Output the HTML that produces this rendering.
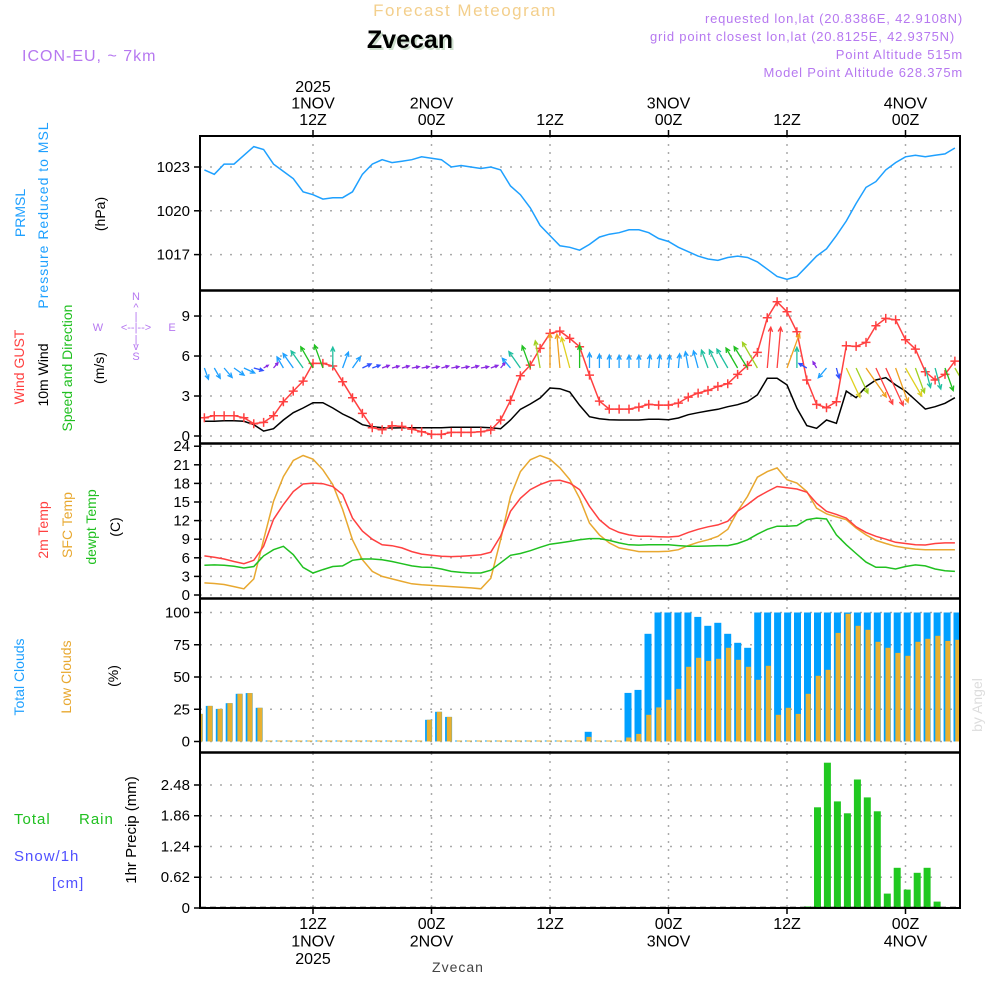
<!DOCTYPE html>
<html><head><meta charset="utf-8">
<style>
html,body{margin:0;padding:0;background:#fff;width:1000px;height:1000px;overflow:hidden}
svg{display:block}
text{font-family:"Liberation Sans",sans-serif}
</style></head>
<body>
<svg id="chart" width="1000" height="1000" viewBox="0 0 1000 1000" xmlns="http://www.w3.org/2000/svg">
<text x="465" y="16" text-anchor="middle" font-size="17" fill="#f3cf8c" letter-spacing="1.5">Forecast Meteogram</text>
<text x="410" y="48" text-anchor="middle" font-size="25" font-weight="bold" font-family="Liberation Serif,serif" fill="#cfe0cf" transform="translate(2,2)">Zvecan</text>
<text x="410" y="48" text-anchor="middle" font-size="25" font-weight="bold" font-family="Liberation Serif,serif" fill="#000">Zvecan</text>
<text x="22" y="61" font-size="16" fill="#b678f0" letter-spacing="1">ICON-EU, ~ 7km</text>
<g font-size="13" fill="#b678f0" text-anchor="end" letter-spacing="0.8">
<text x="963" y="23">requested lon,lat (20.8386E, 42.9108N)</text>
<text x="955" y="41">grid point closest lon,lat (20.8125E, 42.9375N)</text>
<text x="963" y="59">Point Altitude 515m</text>
<text x="963" y="77">Model Point Altitude 628.375m</text>
</g>
<g id="grid"></g>
<g id="marks"></g>
<g id="axes"></g>
<g font-size="14">
<text transform="translate(25,213) rotate(-90)" text-anchor="middle" fill="#1ea0ff">PRMSL</text>
<text transform="translate(48,215) rotate(-90)" text-anchor="middle" fill="#1ea0ff" letter-spacing="1">Pressure Reduced to MSL</text>
<text transform="translate(105,214) rotate(-90)" text-anchor="middle" fill="#000">(hPa)</text>
<text transform="translate(24,367) rotate(-90)" text-anchor="middle" fill="#ff4040">Wind GUST</text>
<text transform="translate(48,375) rotate(-90)" text-anchor="middle" fill="#000">10m Wind</text>
<text transform="translate(72,368) rotate(-90)" text-anchor="middle" fill="#20c020">Speed and Direction</text>
<text transform="translate(104,368) rotate(-90)" text-anchor="middle" fill="#000">(m/s)</text>
<g fill="#b678f0" font-size="11" text-anchor="middle">
<text x="136" y="300">N</text><text x="136" y="311">^</text><text x="136" y="320">|</text>
<text x="98" y="331">W</text><text x="136" y="331">&lt;--|--&gt;</text><text x="172" y="331">E</text>
<text x="136" y="343">|</text><text x="136" y="350">v</text><text x="136" y="360">S</text>
</g>
<text transform="translate(48,530) rotate(-90)" text-anchor="middle" fill="#ff4040">2m Temp</text>
<text transform="translate(72,525) rotate(-90)" text-anchor="middle" fill="#e8a830">SFC Temp</text>
<text transform="translate(96,527) rotate(-90)" text-anchor="middle" fill="#20c020">dewpt Temp</text>
<text transform="translate(120,527) rotate(-90)" text-anchor="middle" fill="#000">(C)</text>
<text transform="translate(24,677) rotate(-90)" text-anchor="middle" fill="#1ea0ff">Total Clouds</text>
<text transform="translate(71,677) rotate(-90)" text-anchor="middle" fill="#e8a830">Low Clouds</text>
<text transform="translate(118,676) rotate(-90)" text-anchor="middle" fill="#000">(%)</text>
<text x="14" y="824" fill="#20c020" font-size="15" letter-spacing="1">Total</text>
<text x="79" y="824" fill="#20c020" font-size="15" letter-spacing="1">Rain</text>
<text x="14" y="861" fill="#5050ff" font-size="15" letter-spacing="1">Snow/1h</text>
<text x="52" y="888" fill="#5050ff" font-size="15" letter-spacing="1">[cm]</text>
<text transform="translate(136,830) rotate(-90)" text-anchor="middle" fill="#000" font-size="15">1hr Precip (mm)</text>
</g>
<text transform="translate(982,705) rotate(-90)" text-anchor="middle" font-size="14" font-family="Liberation Serif,serif" fill="#dddddd">by Angel</text>
<text x="458" y="972" text-anchor="middle" font-size="14" font-family="Liberation Serif,serif" fill="#444" letter-spacing="1">Zvecan</text>
</svg>
<script>
const pressure=[1022.8,1022.5,1023.2,1023.2,1023.8,1024.4,1024.2,1023.2,1022.7,1022.2,1021.3,1021.1,1020.8,1020.9,1020.9,1021.3,1022.5,1023.2,1023.5,1023.3,1023.4,1023.5,1023.7,1023.6,1023.5,1023.0,1023.1,1023.0,1022.9,1023.0,1022.8,1021.7,1021.1,1020.2,1019.0,1018.3,1017.6,1017.5,1017.3,1017.7,1018.2,1018.4,1018.5,1018.7,1018.7,1018.5,1018.1,1017.9,1017.5,1017.2,1016.9,1016.7,1016.6,1016.8,1016.9,1016.8,1016.5,1016.0,1015.5,1015.3,1015.5,1016.2,1016.9,1017.4,1018.3,1019.3,1020.5,1021.6,1022.0,1022.8,1023.3,1023.7,1023.8,1023.7,1023.8,1023.9,1024.3];
const gust=[1.37,1.52,1.52,1.52,1.37,0.92,1.02,1.52,2.57,3.37,4.12,5.45,5.45,5.25,4.07,2.87,1.7,0.62,0.47,0.77,0.72,0.52,0.32,0.12,0.12,0.27,0.27,0.27,0.32,0.45,1.2,2.67,4.52,5.32,6.57,7.7,7.87,7.32,6.7,4.57,2.62,2.02,2.02,2.02,2.17,2.37,2.32,2.32,2.47,2.92,3.22,3.42,3.72,3.92,4.62,5.3,6.27,8.87,10.07,9.32,7.82,4.2,2.37,2.12,2.57,6.77,6.72,7.02,8.27,8.82,8.72,7.22,6.52,4.82,4.2,4.62,5.62];
const wind=[1.1,1.1,1.15,1.15,1.1,0.85,0.37,0.55,1.2,1.75,2.1,2.5,2.5,2.1,1.65,1.3,0.85,0.7,0.62,0.6,0.62,0.62,0.62,0.62,0.62,0.65,0.65,0.65,0.65,0.62,0.55,1.2,2.0,2.4,2.85,3.6,3.55,3.3,2.3,1.45,1.3,1.22,1.2,1.2,1.2,1.25,1.25,1.22,1.35,1.6,1.75,1.88,2.0,2.2,2.35,2.58,3.08,4.33,4.33,3.83,2.08,0.78,0.58,1.2,0.95,3.37,2.87,3.7,4.2,4.37,3.83,3.37,2.7,2.02,2.2,2.45,2.87];
const windDir=[160,150,140,125,115,105,60,40,330,325,325,330,340,0,20,35,65,70,70,75,75,80,80,80,75,80,80,75,80,70,40,320,325,340,350,0,355,345,0,0,0,0,0,0,0,5,5,5,5,350,345,340,335,330,330,328,330,5,5,20,0,300,330,220,165,155,155,145,155,155,160,150,160,165,165,160,150];
const t2m=[6.3,6.1,5.8,5.4,5.05,5.6,7.85,12.2,14.6,16.7,17.9,18.05,17.95,17.5,16.2,12.4,10.3,9.0,8.1,7.95,7.6,7.0,6.6,6.4,6.25,6.2,6.25,6.35,6.5,6.9,9.5,13.5,15.6,17.0,17.8,18.4,18.5,18.05,17.0,14.3,12.15,10.8,10.1,9.7,9.46,9.46,9.4,9.35,9.46,10.1,10.6,11.0,11.3,11.9,13.5,14.6,15.8,16.7,17.5,17.3,17.1,16.6,14.8,13.5,13.0,12.4,11.0,10.1,9.46,9.0,8.5,8.3,8.1,8.06,8.3,8.4,8.4];
const tsfc=[1.95,1.85,1.7,1.35,1.0,2.6,8.9,15.1,19.1,21.7,22.5,21.9,20.2,17.8,13.8,8.9,5.7,3.8,3.0,2.6,2.2,1.8,1.65,1.55,1.45,1.35,1.25,1.15,1.0,2.7,8.9,15.9,19.9,21.8,22.5,21.9,20.5,18.6,15.6,11.6,9.7,8.4,7.6,7.3,7.0,7.0,7.0,7.05,7.3,7.96,8.5,8.9,9.46,10.6,13.5,15.9,19.0,19.9,20.5,18.6,18.06,16.7,14.0,13.1,12.6,12.15,10.8,9.7,8.8,8.3,7.85,7.6,7.4,7.3,7.3,7.3,7.3];
const tdew=[4.8,4.85,4.8,4.65,4.35,4.6,6.3,7.3,7.85,6.5,4.45,3.55,4.1,4.6,4.7,5.6,5.8,5.8,5.7,5.4,5.05,4.7,4.5,4.45,4.2,3.8,3.65,3.55,3.55,4.0,5.2,6.4,6.7,7.15,7.7,8.2,8.4,8.65,8.9,9.1,9.1,8.8,8.4,8.1,8.05,8.1,8.1,8.1,7.96,7.85,7.85,7.9,7.96,7.96,8.3,8.9,9.8,10.6,11.1,11.1,11.2,12.15,12.4,12.25,9.7,8.1,6.7,5.3,4.46,4.46,4.2,4.6,4.85,4.7,4.2,3.9,3.8];
const cloudTotal=[21.4,27.6,25.3,29.7,37,37.5,26.1,0,0,0,0,0,0,0,0,0,0,0,0,0,0,0,0,16.8,23,19.1,0,0,0,0,0,0,0,0,0,0,0,0,0,7.5,0,0,0,37.7,40,83.5,100,100,100,100,96.6,89.7,92,83.5,76.5,72.6,100,100,100,100,100,100,100,100,100,100,100,100,100,100,100,100,100,100,100,100,100];
const cloudLow=[21.4,27.6,25.3,29.7,37,37.5,26.1,0,0,0,0,0,0,0,0,0,0,0,0,0,0,0,0,16.8,23,19.1,0,0,0,0,0,0,0,0,0,0,0,0,0,3.6,0,0,0,3.1,5.9,20.7,26.4,32.3,40.8,57.9,64.9,62.5,64.1,72.6,63.3,57.9,47.8,58.7,20.7,26.1,21.4,37,50.9,55.6,84.2,99,89.7,86.6,77.3,72.6,68.7,66.4,77.3,79.6,81.9,78,78.8];
const precip=[0,0,0,0,0,0,0,0,0,0,0,0,0,0,0,0,0,0,0,0,0,0,0,0,0,0,0,0,0,0,0,0,0,0,0,0,0,0,0,0,0,0,0,0,0,0,0,0,0,0,0,0,0,0,0,0,0,0,0,0,0,0.03,2.03,2.93,2.15,1.91,2.59,2.23,1.95,0.29,0.81,0.37,0.71,0.81,0.13,0,0];
const timeTicks=[12,24,36,48,60,72];
const topLabels=[["2025","1NOV","12Z"],["","2NOV","00Z"],["","","12Z"],["","3NOV","00Z"],["","","12Z"],["","4NOV","00Z"]];
const botLabels=[["12Z","1NOV","2025"],["00Z","2NOV",""],["12Z","",""],["00Z","3NOV",""],["12Z","",""],["00Z","4NOV",""]];
const pTicks=[1017,1020,1023];
const wTicks=[0,3,6,9];
const tTicks=[0,3,6,9,12,15,18,21,24];
const cTicks=[0,25,50,75,100];
const rTicks=[0,0.62,1.24,1.86,2.48];

const NS="http://www.w3.org/2000/svg";
const L=200,R=960;
const X=h=>313+(h-12)*9.875;
const CX=i=>209.3+(i-1)*9.97;
const Y1=v=>167+(1023-v)*14.6;
const Y2=v=>436-v*13.33;
const Y3=v=>595-v*6.2;
const Y4=v=>741.5-v*1.29;
const Y5=v=>908-v*49.6;
const panels=[[136,290,Y1,pTicks,v=>String(v)],[291,443,Y2,wTicks,v=>String(v)],[444,598,Y3,tTicks,v=>String(v)],[599,752,Y4,cTicks,v=>String(v)],[753,908,Y5,rTicks,v=>v===0?"0":v.toFixed(2)]];
function mk(tag,attrs,parent,txt){const e=document.createElementNS(NS,tag);for(const k in attrs)e.setAttribute(k,attrs[k]);if(txt!==undefined)e.textContent=txt;parent.appendChild(e);return e;}
const grid=document.getElementById('grid'),marks=document.getElementById('marks'),axes=document.getElementById('axes');
const defs=mk('defs',{},document.getElementById('chart'));
const cp=mk('clipPath',{id:'plotclip'},defs);mk('rect',{x:L,y:130,width:R-L,height:790},cp);
panels.forEach((p,pi)=>{
  p[3].forEach(v=>{const y=p[2](v);
    const g=mk('line',{x1:L,x2:R,y1:y,y2:y,stroke:'#aaa','stroke-width':1.5,'stroke-dasharray':'2 8'},grid);
    
    
    const t=mk('line',{x1:194,x2:L,y1:y,y2:y,stroke:'#000','stroke-width':1.5},axes);
    
    
    const lb=mk('text',{x:190,y:y+5,'text-anchor':'end','font-size':15,fill:'#000'},axes,p[4](v));
    
    
  });
  timeTicks.forEach(h=>{const x=X(h);
    const g=mk('line',{x1:x,x2:x,y1:p[0],y2:p[1],stroke:'#aaa','stroke-width':1.5,'stroke-dasharray':'2 6'},grid);
    
    
  });
});
const mg=mk('g',{'clip-path':'url(#plotclip)'},marks);
function line(arr,Y,color,name){const pts=arr.map((v,i)=>X(i+1).toFixed(1)+','+Y(v).toFixed(1)).join(' ');
  const e=mk('polyline',{points:pts,fill:'none',stroke:color,'stroke-width':1.5},mg);
  
  }
line(pressure,Y1,'#1ea0ff','pressure-line');
line(wind,Y2,'#000','wind-speed-line');
line(gust,Y2,'#ff4040','wind-gust-line');
gust.forEach((v,i)=>{const x=X(i+1),y=Y2(v);
  const m=mk('path',{d:`M${x-4.5},${y}h9M${x},${y-4.5}v9`,stroke:'#ff4040','stroke-width':1.5},mg);
  
  });
function spdColor(s){if(s<0.7)return'#8a2be2';if(s<1.0)return'#3050ff';if(s<1.8)return'#1ea0ff';if(s<2.3)return'#20c0a0';if(s<2.7)return'#20c020';if(s<3.1)return'#a0d020';if(s<3.5)return'#e0d020';if(s<4.0)return'#f0a020';return'#ff4040';}
windDir.forEach((d,i)=>{const s=wind[i],len=9*s+2,x0=X(i+1),y0=368,a=d*Math.PI/180;
  const x1=x0+len*Math.sin(a),y1=y0-len*Math.cos(a),hs=Math.min(5,len*0.45);
  const b1=a+Math.PI-0.45,b2=a+Math.PI+0.45;
  const c=spdColor(s);
  const ar=mk('path',{d:`M${x0.toFixed(1)},${y0}L${x1.toFixed(1)},${y1.toFixed(1)}M${(x1+hs*Math.sin(b1)).toFixed(1)},${(y1-hs*Math.cos(b1)).toFixed(1)}L${x1.toFixed(1)},${y1.toFixed(1)}L${(x1+hs*Math.sin(b2)).toFixed(1)},${(y1-hs*Math.cos(b2)).toFixed(1)}`,stroke:c,'stroke-width':1.3,fill:'none'},mg);
  
  });
line(tsfc,Y3,'#e8a830','sfc-temp-line');
line(t2m,Y3,'#ff4040','2m-temp-line');
line(tdew,Y3,'#20c020','dewpoint-line');
cloudTotal.forEach((v,i)=>{const x=CX(i),h=Math.max(1,v*1.29);
  const b=mk('rect',{x:(x-3.5).toFixed(1),y:(741.5-h).toFixed(1),width:7,height:h.toFixed(1),fill:'#00a0ff'},mg);
  
  
  const lv=cloudLow[i],lh=Math.max(1,lv*1.29);
  const o=mk('rect',{x:(x-1.8).toFixed(1),y:(741.5-lh).toFixed(1),width:5,height:lh.toFixed(1),fill:'#e8b030'},mg);
  
  });
mk('line',{x1:L,x2:R,y1:907.5,y2:907.5,stroke:'#000','stroke-width':1.5,'stroke-dasharray':'6 4'},marks);
precip.forEach((v,i)=>{if(v<=0)return;const x=CX(i),h=v*49.6;
  const b=mk('rect',{x:(x-3.5).toFixed(1),y:(908-h).toFixed(1),width:7,height:h.toFixed(1),fill:'#20c820'},mg);
  
  });
mk('rect',{x:L,y:136,width:R-L,height:772,fill:'none',stroke:'#000','stroke-width':2},axes);
[290.5,443.5,598.5,752.5].forEach(y=>{mk('line',{x1:L,x2:R,y1:y,y2:y,stroke:'#000','stroke-width':2.5},axes);});
timeTicks.forEach((h,k)=>{const x=X(h);
  mk('line',{x1:x,x2:x,y1:130,y2:136,stroke:'#000','stroke-width':1.5},axes);
  mk('line',{x1:x,x2:x,y1:908,y2:914,stroke:'#000','stroke-width':1.5},axes);
  topLabels[k].forEach((s,j)=>{if(!s)return;const t=mk('text',{x:x,y:92+j*16.5,'text-anchor':'middle','font-size':16,fill:'#000'},axes,s);
    
    });
  botLabels[k].forEach((s,j)=>{if(!s)return;const t=mk('text',{x:x,y:929+j*17.5,'text-anchor':'middle','font-size':16,fill:'#000'},axes,s);
    
    });
});
</script>
</body></html>
